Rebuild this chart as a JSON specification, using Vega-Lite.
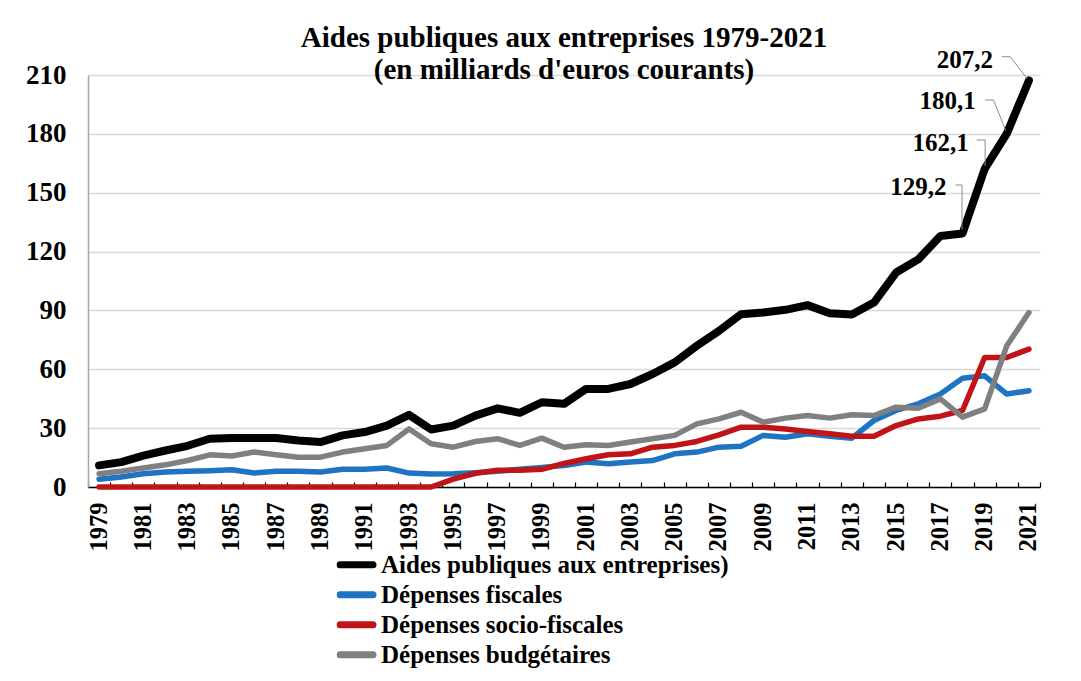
{
  "$schema": "https://vega.github.io/schema/vega-lite/v6.json",
  "width": 952,
  "height": 412,
  "autosize": {"type": "none"},
  "padding": {"left": 88, "top": 75, "right": 41, "bottom": 194},
  "background": "white",
  "config": {
    "locale": {"number": {"decimal": ",", "thousands": " ", "grouping": [3], "currency": ["", " €"]}},
    "view": {"stroke": null},
    "font": "Liberation Serif"
  },
  "title": {
    "text": ["Aides publiques aux entreprises 1979-2021", "(en milliards d'euros courants)"],
    "font": "Liberation Serif",
    "fontSize": 29,
    "fontWeight": "bold",
    "color": "black",
    "anchor": "middle",
    "frame": "group",
    "baseline": "alphabetic",
    "lineHeight": 32,
    "offset": -4,
    "dy": 56
  },
  "data": {
    "values": [
      {"year": 1979, "Aides publiques aux entreprises)": 11.0, "Dépenses fiscales": 3.9, "Dépenses socio-fiscales": 0, "Dépenses budgétaires": 6.8},
      {"year": 1980, "Aides publiques aux entreprises)": 12.7, "Dépenses fiscales": 5.1, "Dépenses socio-fiscales": 0, "Dépenses budgétaires": 8.0},
      {"year": 1981, "Aides publiques aux entreprises)": 16.0, "Dépenses fiscales": 6.8, "Dépenses socio-fiscales": 0, "Dépenses budgétaires": 9.7},
      {"year": 1982, "Aides publiques aux entreprises)": 18.6, "Dépenses fiscales": 7.6, "Dépenses socio-fiscales": 0, "Dépenses budgétaires": 11.3},
      {"year": 1983, "Aides publiques aux entreprises)": 21.0, "Dépenses fiscales": 8.0, "Dépenses socio-fiscales": 0, "Dépenses budgétaires": 13.5},
      {"year": 1984, "Aides publiques aux entreprises)": 24.6, "Dépenses fiscales": 8.3, "Dépenses socio-fiscales": 0, "Dépenses budgétaires": 16.4},
      {"year": 1985, "Aides publiques aux entreprises)": 25.0, "Dépenses fiscales": 8.8, "Dépenses socio-fiscales": 0, "Dépenses budgétaires": 15.8},
      {"year": 1986, "Aides publiques aux entreprises)": 25.0, "Dépenses fiscales": 7.1, "Dépenses socio-fiscales": 0, "Dépenses budgétaires": 17.8},
      {"year": 1987, "Aides publiques aux entreprises)": 25.0, "Dépenses fiscales": 8.0, "Dépenses socio-fiscales": 0, "Dépenses budgétaires": 16.4},
      {"year": 1988, "Aides publiques aux entreprises)": 23.7, "Dépenses fiscales": 8.0, "Dépenses socio-fiscales": 0, "Dépenses budgétaires": 15.2},
      {"year": 1989, "Aides publiques aux entreprises)": 22.9, "Dépenses fiscales": 7.6, "Dépenses socio-fiscales": 0, "Dépenses budgétaires": 15.2},
      {"year": 1990, "Aides publiques aux entreprises)": 26.3, "Dépenses fiscales": 9.0, "Dépenses socio-fiscales": 0, "Dépenses budgétaires": 17.8},
      {"year": 1991, "Aides publiques aux entreprises)": 28.0, "Dépenses fiscales": 9.0, "Dépenses socio-fiscales": 0, "Dépenses budgétaires": 19.5},
      {"year": 1992, "Aides publiques aux entreprises)": 31.3, "Dépenses fiscales": 9.7, "Dépenses socio-fiscales": 0, "Dépenses budgétaires": 21.2},
      {"year": 1993, "Aides publiques aux entreprises)": 36.8, "Dépenses fiscales": 7.1, "Dépenses socio-fiscales": 0, "Dépenses budgétaires": 29.6},
      {"year": 1994, "Aides publiques aux entreprises)": 29.3, "Dépenses fiscales": 6.6, "Dépenses socio-fiscales": 0, "Dépenses budgétaires": 22.0},
      {"year": 1995, "Aides publiques aux entreprises)": 31.3, "Dépenses fiscales": 6.8, "Dépenses socio-fiscales": 4.0, "Dépenses budgétaires": 20.3},
      {"year": 1996, "Aides publiques aux entreprises)": 36.4, "Dépenses fiscales": 7.3, "Dépenses socio-fiscales": 7.0, "Dépenses budgétaires": 23.2},
      {"year": 1997, "Aides publiques aux entreprises)": 40.1, "Dépenses fiscales": 8.0, "Dépenses socio-fiscales": 8.5, "Dépenses budgétaires": 24.6},
      {"year": 1998, "Aides publiques aux entreprises)": 37.8, "Dépenses fiscales": 9.0, "Dépenses socio-fiscales": 8.5, "Dépenses budgétaires": 21.2},
      {"year": 1999, "Aides publiques aux entreprises)": 43.2, "Dépenses fiscales": 10.0, "Dépenses socio-fiscales": 9.0, "Dépenses budgétaires": 24.9},
      {"year": 2000, "Aides publiques aux entreprises)": 42.4, "Dépenses fiscales": 11.0, "Dépenses socio-fiscales": 12.0, "Dépenses budgétaires": 20.3},
      {"year": 2001, "Aides publiques aux entreprises)": 50.0, "Dépenses fiscales": 12.7, "Dépenses socio-fiscales": 14.4, "Dépenses budgétaires": 21.5},
      {"year": 2002, "Aides publiques aux entreprises)": 50.0, "Dépenses fiscales": 11.9, "Dépenses socio-fiscales": 16.4, "Dépenses budgétaires": 21.2},
      {"year": 2003, "Aides publiques aux entreprises)": 52.5, "Dépenses fiscales": 12.7, "Dépenses socio-fiscales": 16.9, "Dépenses budgétaires": 22.9},
      {"year": 2004, "Aides publiques aux entreprises)": 57.6, "Dépenses fiscales": 13.5, "Dépenses socio-fiscales": 20.3, "Dépenses budgétaires": 24.6},
      {"year": 2005, "Aides publiques aux entreprises)": 63.5, "Dépenses fiscales": 16.9, "Dépenses socio-fiscales": 21.2, "Dépenses budgétaires": 26.3},
      {"year": 2006, "Aides publiques aux entreprises)": 72.0, "Dépenses fiscales": 17.8, "Dépenses socio-fiscales": 23.2, "Dépenses budgétaires": 32.2},
      {"year": 2007, "Aides publiques aux entreprises)": 79.6, "Dépenses fiscales": 20.3, "Dépenses socio-fiscales": 26.6, "Dépenses budgétaires": 34.7},
      {"year": 2008, "Aides publiques aux entreprises)": 88.1, "Dépenses fiscales": 20.8, "Dépenses socio-fiscales": 30.5, "Dépenses budgétaires": 38.1},
      {"year": 2009, "Aides publiques aux entreprises)": 88.9, "Dépenses fiscales": 26.3, "Dépenses socio-fiscales": 30.5, "Dépenses budgétaires": 33.0},
      {"year": 2010, "Aides publiques aux entreprises)": 90.3, "Dépenses fiscales": 25.4, "Dépenses socio-fiscales": 29.6, "Dépenses budgétaires": 35.1},
      {"year": 2011, "Aides publiques aux entreprises)": 92.7, "Dépenses fiscales": 27.1, "Dépenses socio-fiscales": 28.3, "Dépenses budgétaires": 36.4},
      {"year": 2012, "Aides publiques aux entreprises)": 88.6, "Dépenses fiscales": 25.9, "Dépenses socio-fiscales": 27.1, "Dépenses budgétaires": 35.1},
      {"year": 2013, "Aides publiques aux entreprises)": 87.9, "Dépenses fiscales": 24.9, "Dépenses socio-fiscales": 25.9, "Dépenses budgétaires": 36.8},
      {"year": 2014, "Aides publiques aux entreprises)": 94.0, "Dépenses fiscales": 33.9, "Dépenses socio-fiscales": 25.9, "Dépenses budgétaires": 36.4},
      {"year": 2015, "Aides publiques aux entreprises)": 109.3, "Dépenses fiscales": 39.0, "Dépenses socio-fiscales": 31.3, "Dépenses budgétaires": 40.7},
      {"year": 2016, "Aides publiques aux entreprises)": 116.0, "Dépenses fiscales": 42.4, "Dépenses socio-fiscales": 34.7, "Dépenses budgétaires": 40.1},
      {"year": 2017, "Aides publiques aux entreprises)": 127.9, "Dépenses fiscales": 47.4, "Dépenses socio-fiscales": 36.1, "Dépenses budgétaires": 44.9},
      {"year": 2018, "Aides publiques aux entreprises)": 129.2, "Dépenses fiscales": 55.4, "Dépenses socio-fiscales": 39.0, "Dépenses budgétaires": 35.6},
      {"year": 2019, "Aides publiques aux entreprises)": 162.1, "Dépenses fiscales": 56.7, "Dépenses socio-fiscales": 66.0, "Dépenses budgétaires": 39.8},
      {"year": 2020, "Aides publiques aux entreprises)": 180.1, "Dépenses fiscales": 47.4, "Dépenses socio-fiscales": 66.0, "Dépenses budgétaires": 72.0},
      {"year": 2021, "Aides publiques aux entreprises)": 207.2, "Dépenses fiscales": 49.1, "Dépenses socio-fiscales": 70.3, "Dépenses budgétaires": 88.9}
    ]
  },
  "encoding": {
    "x": {
      "field": "year",
      "type": "ordinal",
      "scale": {"type": "band", "paddingInner": 0, "paddingOuter": 0},
      "axis": {
        "title": null,
        "labelAngle": -90,
        "labelAlign": "right",
        "labelBaseline": "middle",
        "labelFont": "Liberation Serif",
        "labelFontSize": 24.5,
        "labelFontWeight": "bold",
        "labelColor": "black",
        "labelExpr": "datum.value % 2 == 1 ? datum.label : ''",
        "labelPadding": 20,
        "tickBand": "extent",
        "tickSize": -5,
        "tickColor": "black",
        "tickWidth": 1.2,
        "domainColor": "black",
        "domainWidth": 1.5,
        "grid": false,
        "labelOverlap": false
      }
    },
    "y": {
      "field": "value",
      "type": "quantitative",
      "scale": {"domain": [0, 210], "nice": false},
      "axis": {
        "title": null,
        "values": [0, 30, 60, 90, 120, 150, 180, 210],
        "labelFont": "Liberation Serif",
        "labelFontSize": 27,
        "labelFontWeight": "bold",
        "labelColor": "black",
        "labelPadding": 22,
        "ticks": false,
        "domainColor": "#a6a6a6",
        "domainWidth": 1.5,
        "grid": true,
        "gridColor": "#d9d9d9",
        "gridWidth": 1.5
      }
    }
  },
  "layer": [
    {
      "transform": [
        {"fold": ["Aides publiques aux entreprises)"], "as": ["series", "value"]}
      ],
      "mark": {"type": "line", "strokeWidth": 8, "strokeJoin": "round", "strokeCap": "round"},
      "encoding": {
        "color": {
          "field": "series",
          "type": "nominal",
          "scale": {
            "domain": ["Aides publiques aux entreprises)", "Dépenses fiscales", "Dépenses socio-fiscales", "Dépenses budgétaires"],
            "range": ["#000000", "#1f73c3", "#c01418", "#808080"]
          },
          "legend": {
            "title": null,
            "orient": "none",
            "legendX": 248.5,
            "legendY": 475,
            "direction": "vertical",
            "symbolType": "stroke",
            "symbolSize": 1089,
            "symbolStrokeWidth": 7,
            "clipHeight": 29.5,
            "rowPadding": 0,
            "labelFont": "Liberation Serif",
            "labelFontSize": 25,
            "labelFontWeight": "bold",
            "labelColor": "black",
            "labelOffset": 4.5,
            "labelLimit": 500,
            "encode": {"symbols": {"update": {"strokeCap": {"value": "round"}}}}
          }
        }
      }
    },
    {
      "transform": [
        {"fold": ["Dépenses fiscales", "Dépenses socio-fiscales", "Dépenses budgétaires"], "as": ["series", "value"]}
      ],
      "mark": {"type": "line", "strokeWidth": 5.5, "strokeJoin": "round", "strokeCap": "round"},
      "encoding": {
        "color": {"field": "series", "type": "nominal"}
      }
    },
    {
      "transform": [{"filter": "datum.year == 2021"}],
      "mark": {"type": "rule", "color": "#8c8c8c", "strokeWidth": 1, "xOffset": -2, "yOffset": -2, "x2Offset": -18.7, "y2Offset": -23.8},
      "encoding": {"y": {"field": "Aides publiques aux entreprises)", "type": "quantitative"}, "x2": {"field": "year"}, "y2": {"field": "Aides publiques aux entreprises)"}}
    },
    {
      "transform": [{"filter": "datum.year == 2021"}],
      "mark": {"type": "rule", "color": "#8c8c8c", "strokeWidth": 1, "xOffset": -18.7, "yOffset": -23.8, "x2Offset": -27, "y2Offset": -23.8},
      "encoding": {"y": {"field": "Aides publiques aux entreprises)", "type": "quantitative"}, "x2": {"field": "year"}, "y2": {"field": "Aides publiques aux entreprises)"}}
    },
    {
      "transform": [{"filter": "datum.year == 2020"}],
      "mark": {"type": "rule", "color": "#8c8c8c", "strokeWidth": 1, "xOffset": -1, "yOffset": -3, "x2Offset": -13.3, "y2Offset": -33.6},
      "encoding": {"y": {"field": "Aides publiques aux entreprises)", "type": "quantitative"}, "x2": {"field": "year"}, "y2": {"field": "Aides publiques aux entreprises)"}}
    },
    {
      "transform": [{"filter": "datum.year == 2020"}],
      "mark": {"type": "rule", "color": "#8c8c8c", "strokeWidth": 1, "xOffset": -13.3, "yOffset": -33.6, "x2Offset": -21.6, "y2Offset": -33.6},
      "encoding": {"y": {"field": "Aides publiques aux entreprises)", "type": "quantitative"}, "x2": {"field": "year"}, "y2": {"field": "Aides publiques aux entreprises)"}}
    },
    {
      "transform": [{"filter": "datum.year == 2019"}],
      "mark": {"type": "rule", "color": "#8c8c8c", "strokeWidth": 1, "xOffset": 0.5, "yOffset": -3, "x2Offset": 0.5, "y2Offset": -29},
      "encoding": {"y": {"field": "Aides publiques aux entreprises)", "type": "quantitative"}, "x2": {"field": "year"}, "y2": {"field": "Aides publiques aux entreprises)"}}
    },
    {
      "transform": [{"filter": "datum.year == 2019"}],
      "mark": {"type": "rule", "color": "#8c8c8c", "strokeWidth": 1, "xOffset": 0.5, "yOffset": -29, "x2Offset": -8, "y2Offset": -29},
      "encoding": {"y": {"field": "Aides publiques aux entreprises)", "type": "quantitative"}, "x2": {"field": "year"}, "y2": {"field": "Aides publiques aux entreprises)"}}
    },
    {
      "transform": [{"filter": "datum.year == 2018"}],
      "mark": {"type": "rule", "color": "#8c8c8c", "strokeWidth": 1, "xOffset": -0.5, "yOffset": -4, "x2Offset": -0.5, "y2Offset": -48.5},
      "encoding": {"y": {"field": "Aides publiques aux entreprises)", "type": "quantitative"}, "x2": {"field": "year"}, "y2": {"field": "Aides publiques aux entreprises)"}}
    },
    {
      "transform": [{"filter": "datum.year == 2018"}],
      "mark": {"type": "rule", "color": "#8c8c8c", "strokeWidth": 1, "xOffset": -0.5, "yOffset": -48.5, "x2Offset": -7, "y2Offset": -48.5},
      "encoding": {"y": {"field": "Aides publiques aux entreprises)", "type": "quantitative"}, "x2": {"field": "year"}, "y2": {"field": "Aides publiques aux entreprises)"}}
    },
    {
      "transform": [{"filter": "datum.year == 2021"}],
      "mark": {"type": "text", "align": "right", "baseline": "middle", "dx": -36, "dy": -20, "font": "Liberation Serif", "fontSize": 25, "fontWeight": "bold", "color": "black"},
      "encoding": {
        "y": {"field": "Aides publiques aux entreprises)", "type": "quantitative"},
        "text": {"field": "Aides publiques aux entreprises)", "type": "quantitative", "format": ".1f"}
      }
    },
    {
      "transform": [{"filter": "datum.year == 2020"}],
      "mark": {"type": "text", "align": "right", "baseline": "middle", "dx": -31, "dy": -33, "font": "Liberation Serif", "fontSize": 25, "fontWeight": "bold", "color": "black"},
      "encoding": {
        "y": {"field": "Aides publiques aux entreprises)", "type": "quantitative"},
        "text": {"field": "Aides publiques aux entreprises)", "type": "quantitative", "format": ".1f"}
      }
    },
    {
      "transform": [{"filter": "datum.year == 2019"}],
      "mark": {"type": "text", "align": "right", "baseline": "middle", "dx": -16, "dy": -26, "font": "Liberation Serif", "fontSize": 25, "fontWeight": "bold", "color": "black"},
      "encoding": {
        "y": {"field": "Aides publiques aux entreprises)", "type": "quantitative"},
        "text": {"field": "Aides publiques aux entreprises)", "type": "quantitative", "format": ".1f"}
      }
    },
    {
      "transform": [{"filter": "datum.year == 2018"}],
      "mark": {"type": "text", "align": "right", "baseline": "middle", "dx": -16, "dy": -47, "font": "Liberation Serif", "fontSize": 25, "fontWeight": "bold", "color": "black"},
      "encoding": {
        "y": {"field": "Aides publiques aux entreprises)", "type": "quantitative"},
        "text": {"field": "Aides publiques aux entreprises)", "type": "quantitative", "format": ".1f"}
      }
    }
  ]
}
